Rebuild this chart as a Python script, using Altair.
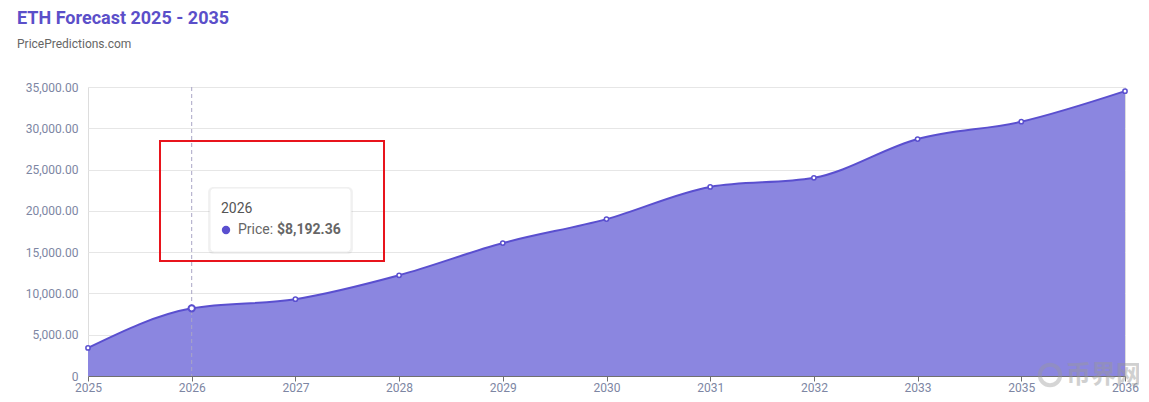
import altair as alt
import pandas as pd

years = ["2025", "2026", "2027", "2028", "2029", "2030", "2031", "2032", "2033", "2035", "2036"]
prices = [3400, 8192.36, 9300, 12200, 16100, 19000, 22900, 24000, 28700, 30800, 34500]

df = pd.DataFrame({"year": years, "price": prices})

LINE = "#5a4fcf"
FILL = "#8b86e0"
AXIS_TXT = "#7d86a3"

x = alt.X("year:O", sort=years, title=None,
          scale=alt.Scale(type="point", padding=0),
          axis=alt.Axis(labelAngle=0, labelColor=AXIS_TXT, labelFontSize=12,
                        labelFont="Roboto", domainColor="#707070", tickColor="#707070",
                        tickSize=5, labelPadding=1, grid=False))
y = alt.Y("price:Q", title=None,
          scale=alt.Scale(domain=[0, 35000], nice=False),
          axis=alt.Axis(values=[0, 5000, 10000, 15000, 20000, 25000, 30000, 35000],
                        labelExpr="datum.value == 0 ? '0' : format(datum.value, ',.2f')",
                        labelColor=AXIS_TXT, labelFontSize=12, labelFont="Roboto",
                        domain=False, ticks=False, labelPadding=10,
                        gridColor="#e6e6e6"))

base = alt.Chart(df)

area = base.mark_area(interpolate="monotone", color=FILL, opacity=1).encode(x=x, y=y)
line = base.mark_line(interpolate="monotone", color=LINE, strokeWidth=2).encode(x=x, y=y)
pts = base.mark_point(filled=True, fill="white", stroke=LINE, strokeWidth=1.5,
                      size=18, opacity=1).encode(x=x, y=y)

# hovered point
sel = df[df["year"] == "2026"]
hover_rule = alt.Chart(sel).mark_rule(color="#a9a6c6", strokeDash=[4, 3], strokeWidth=1).encode(
    x=x, y=alt.value(0), y2=alt.value(289))
hover_pt = alt.Chart(sel).mark_point(filled=True, fill="white", stroke=LINE, strokeWidth=2,
                                     size=40, opacity=1).encode(x=x, y=y)

# tooltip box
tip_shadow = alt.Chart(sel).mark_rect(color="#000000", opacity=0.05, cornerRadius=5).encode(
    x=alt.value(120), x2=alt.value(265), y=alt.value(100), y2=alt.value(167))
tip_box = alt.Chart(sel).mark_rect(color="white", cornerRadius=4, stroke="#eeeeee").encode(
    x=alt.value(122), x2=alt.value(263), y=alt.value(101), y2=alt.value(165))
tip_year = alt.Chart(sel).mark_text(align="left", baseline="middle", fontSize=14,
                                    font="Roboto", color="#555555").encode(
    x=alt.value(133), y=alt.value(122), text="year:N")
tip_dot = alt.Chart(sel).mark_point(filled=True, color=LINE, size=70, opacity=1).encode(
    x=alt.value(138), y=alt.value(143))
tip_label = alt.Chart(sel).mark_text(align="left", baseline="middle", fontSize=14,
                                     font="Roboto", color="#666666").encode(
    x=alt.value(150), y=alt.value(143), text=alt.value("Price:"))
tip_val = alt.Chart(sel).mark_text(align="left", baseline="middle", fontSize=14,
                                   font="Roboto", fontWeight="bold", color="#666666").encode(
    x=alt.value(189), y=alt.value(143), text=alt.Text("price:Q", format="$,.2f"))

# red highlight box
red_box = alt.Chart(sel).mark_rect(fill=None, stroke="#e8141c", strokeWidth=2).encode(
    x=alt.value(72), x2=alt.value(296), y=alt.value(54), y2=alt.value(174))

# headings
title = alt.Chart(sel).mark_text(align="left", baseline="middle", fontSize=18,
                                 font="Roboto", fontWeight="bold", color="#5b4fc9").encode(
    x=alt.value(-71), y=alt.value(-68), text=alt.value("ETH Forecast 2025 - 2035"))
subtitle = alt.Chart(sel).mark_text(align="left", baseline="middle", fontSize=12,
                                    font="Roboto", color="#666666").encode(
    x=alt.value(-71), y=alt.value(-43), text=alt.value("PricePredictions.com"))

# faint watermark
wm_icon = alt.Chart(sel).mark_point(shape="circle", filled=False, stroke="#999999",
                                    strokeWidth=4, size=420, opacity=0.4).encode(
    x=alt.value(962), y=alt.value(288))
wm_text = alt.Chart(sel).mark_text(align="left", baseline="middle", fontSize=25,
                                   font="Noto Sans CJK SC", fontWeight="bold",
                                   color="#999999", opacity=0.45).encode(
    x=alt.value(978), y=alt.value(288), text=alt.value("币界网"))

chart = (area + line + pts + hover_rule + hover_pt + red_box + tip_shadow + tip_box
         + tip_year + tip_dot + tip_label + tip_val + title + subtitle + wm_icon + wm_text).properties(
    width=1037, height=289,
    autosize=alt.AutoSizeParams(type="none"),
    padding={"left": 80, "top": 79, "right": 14, "bottom": 17},
).configure_view(stroke=None).configure(background="white")

chart.save("out.html", embed_options={"renderer": "svg", "actions": False})
